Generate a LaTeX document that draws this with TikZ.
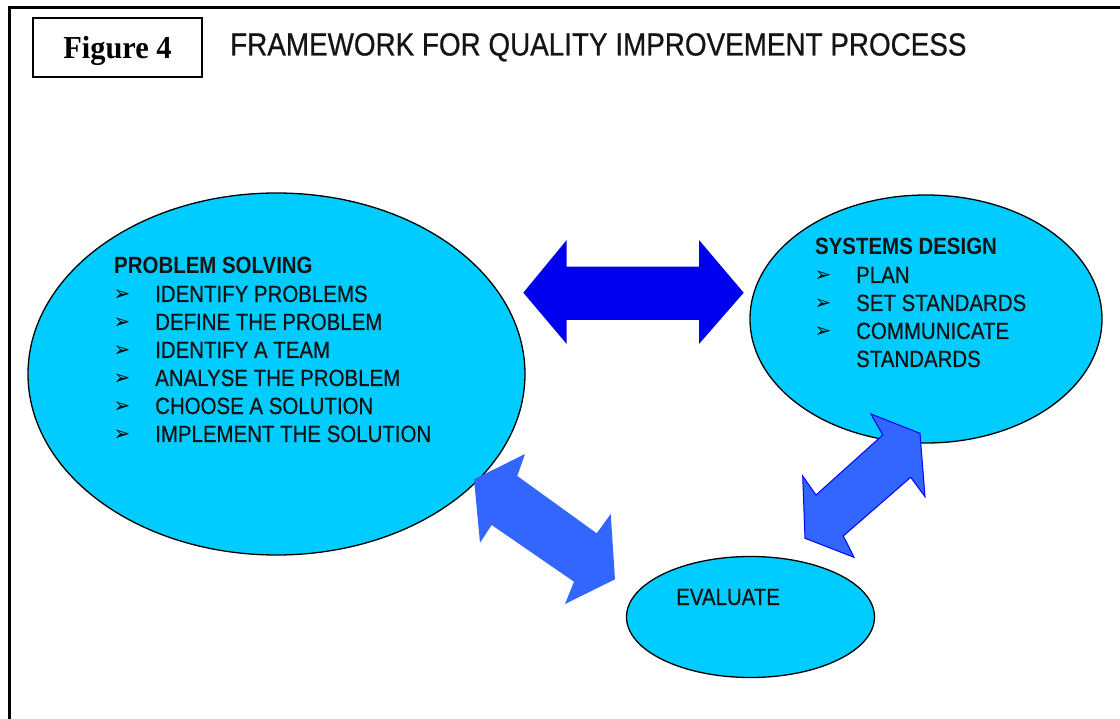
\documentclass[tikz,border=0pt]{standalone}
\usepackage{fontspec}
\usetikzlibrary{shapes.geometric}
\newfontfamily\sfc{Liberation Sans}[FakeStretch=0.87,FakeBold=0.6]
\newfontfamily\sfcb{Liberation Sans Bold}[FakeStretch=0.87]
\newfontfamily\figfont{Liberation Serif}[FakeStretch=0.95]
\newfontfamily\dingfont{DejaVu Sans}
\definecolor{cyanfill}{RGB}{0,204,255}
\definecolor{darkarrow}{RGB}{0,0,240}
\definecolor{lightarrow}{RGB}{51,102,255}
\definecolor{arrowedge}{RGB}{0,0,255}
\definecolor{inktext}{RGB}{20,20,20}
\begin{document}
\begin{tikzpicture}[x=1pt,y=-1pt,
  oval/.style={ellipse,draw=black,line width=1.3pt,fill=cyanfill,inner sep=0pt},
  txt/.style={anchor=base west,inner sep=0pt,text=inktext,font=\sfc\fontsize{23.5}{28}\selectfont},
  boldtxt/.style={txt,font=\sfcb\fontsize{23.5}{28}\selectfont},
  bul/.style={anchor=base,inner sep=0pt,font=\dingfont\fontsize{20}{22}\selectfont},
  darkarr/.style={fill=darkarrow},
  lightarr/.style={fill=lightarrow},
  edgedarr/.style={fill=lightarrow,draw=arrowedge,line width=1pt,line join=miter}
]
\useasboundingbox (0,0) rectangle (1120,719);
\fill[white] (0,0) rectangle (1120,719);
% outer frame
\draw[line width=3pt] (9.5,719) -- (9.5,7.5) -- (1120,7.5);
% figure label box
\node[draw=black,line width=2pt,minimum width=169pt,minimum height=59pt,inner sep=0pt] (figbox) at (117.5,47.5) {};
\node[anchor=base,inner sep=0pt,font=\figfont\bfseries\fontsize{32}{36}\selectfont] (figlabel) at (117.5,59) {Figure 4};
\node[anchor=base west,inner sep=0pt,text=inktext,font=\sfc\fontsize{32}{36}\selectfont] (title) at (230,55.5) {FRAMEWORK FOR QUALITY IMPROVEMENT PROCESS};
% ellipses
\node[oval,minimum width=497pt,minimum height=362pt] (ps) at (276.5,374) {};
\node[oval,minimum width=352pt,minimum height=248pt] (sd) at (926,319) {};
\node[oval,minimum width=248pt,minimum height=121pt] (ev) at (750.5,617) {};
% problem solving text
\node[boldtxt] (pst) at (114,274) {PROBLEM SOLVING};
\foreach \i/\t in {1/IDENTIFY PROBLEMS,2/DEFINE THE PROBLEM,3/IDENTIFY A TEAM,4/ANALYSE THE PROBLEM,5/CHOOSE A SOLUTION,6/IMPLEMENT THE SOLUTION}{
  \node[bul] (psb\i) at (122,{273+28*\i}) {➢};
  \node[txt] (psi\i) at (155,{274+28*\i}) {\t};
}
% systems design text
\node[boldtxt] (sdt) at (815,255) {SYSTEMS DESIGN};
\foreach \i/\t in {1/PLAN,2/SET STANDARDS,3/COMMUNICATE}{
  \node[bul] (sdb\i) at (823,{254+28*\i}) {➢};
  \node[txt] (sdi\i) at (856,{255+28*\i}) {\t};
}
\node[txt] (sdi4) at (856,367) {STANDARDS};
% evaluate text
\node[txt] (evt) at (676,605) {EVALUATE};
% big double arrow between problem solving and systems design
\path[darkarr] (523.3,292.7) -- (566.7,240) -- (566.7,266.7) -- (699,266.7) -- (699,240)
  -- (743.7,292.7) -- (699,344) -- (699,320) -- (566.7,320) -- (566.7,344) -- cycle;
% lower-left double arrow between problem solving and evaluate
\path[lightarr] (474,479.3) -- (525,454) -- (517.3,476) -- (596.7,533.3) -- (610.7,514)
  -- (615,579.3) -- (565,604) -- (574,581.7) -- (491.7,525) -- (480,542.7) -- cycle;
% upper-right double arrow between systems design and evaluate
\path[edgedarr] (871,414) -- (920,433.3) -- (925,496.7) -- (910.7,477.3) -- (843.3,536)
  -- (854,557.3) -- (805,538.3) -- (802.7,476) -- (816,495) -- (882.7,435) -- cycle;
\end{tikzpicture}
\end{document}
